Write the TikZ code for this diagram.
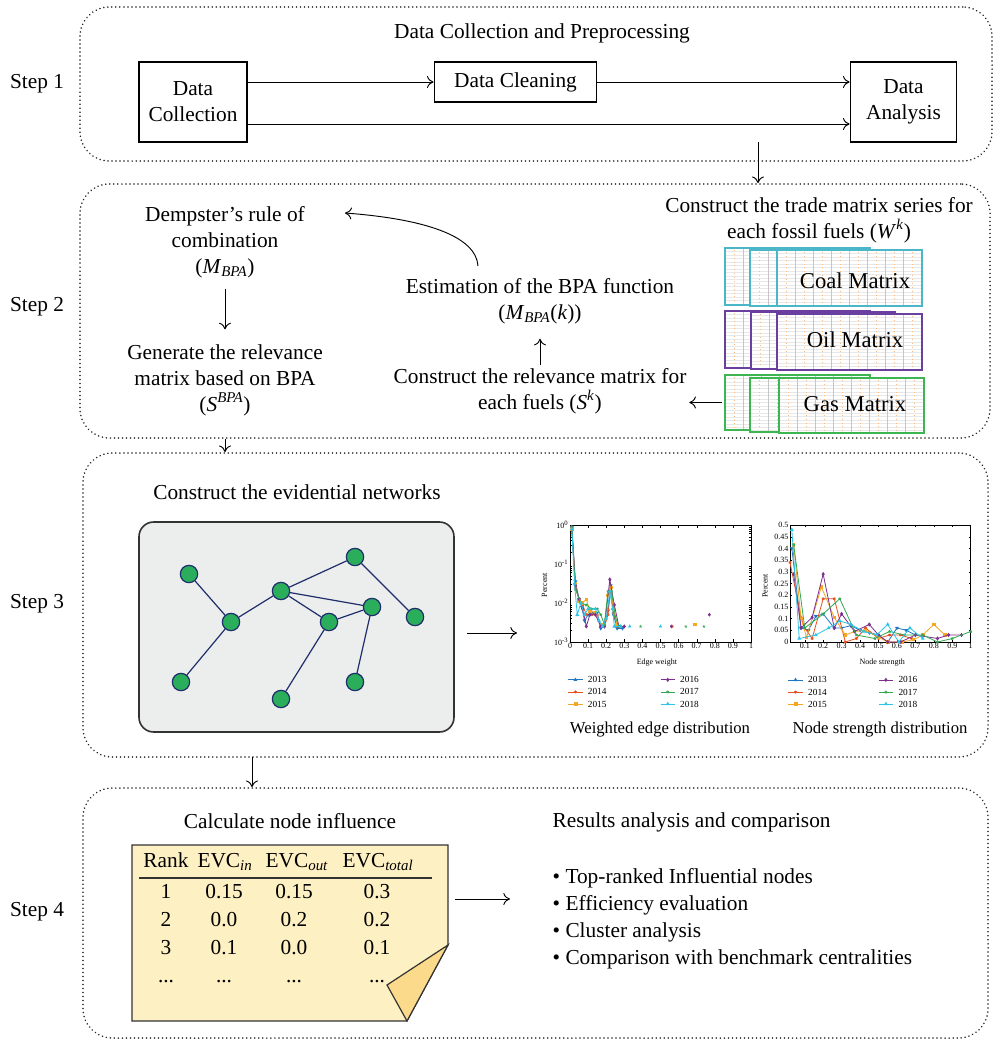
\documentclass[tikz,border=0pt]{standalone}
\usepackage{fontspec}
\setmainfont{Liberation Serif}
\usetikzlibrary{arrows.meta,positioning,fit,plotmarks}

\definecolor{netgreen}{HTML}{2BAE5C}
\definecolor{netblue}{HTML}{1F2D6B}
\definecolor{panelgray}{HTML}{ECEEEE}
\definecolor{coalcol}{HTML}{4CB6C9}
\definecolor{oilcol}{HTML}{6B3FA0}
\definecolor{gascol}{HTML}{3DB550}
\definecolor{notefill}{HTML}{FDF0C2}
\definecolor{flapfill}{HTML}{FCDA8C}
\definecolor{c13}{HTML}{1F77C4}
\definecolor{c14}{HTML}{E8501E}
\definecolor{c15}{HTML}{F5A623}
\definecolor{c16}{HTML}{7E2F8E}
\definecolor{c17}{HTML}{33A852}
\definecolor{c18}{HTML}{2EC4E8}

% one sheet of a trade matrix: name, corners, colour
\newcommand{\tradesheet}[6]{%
  \fill[white] (#2,#3) rectangle (#4,#5);
  \begin{scope}
    \clip (#2,#3) rectangle (#4,#5);
    \foreach \k in {1,...,16}
      \draw[gray!18, line width=0.3pt] (#2,#3+3.5*\k) -- (#4,#3+3.5*\k);
    \foreach \k in {1,...,8} {
      \draw[gray!45, line width=0.3pt] (#2+18*\k,#3) -- (#2+18*\k,#5);
      \draw[orange!55, line width=0.5pt, dash pattern=on 0.5pt off 2.4pt] (#2+18*\k-9,#3+2) -- (#2+18*\k-9,#5-2);
    }
  \end{scope}
  \draw[#6, line width=1.1pt] (#2,#3) rectangle (#4,#5);
  \node[inner sep=0pt, fit={(#2,#3) (#4,#5)}] (#1) {};
}

\begin{document}
\begin{tikzpicture}[
    x=0.75pt, y=-0.75pt,
    font=\fontsize{16}{19.5}\selectfont,
    stepframe/.style={
        draw=black!85, line width=1.3pt, dash pattern=on 0.01pt off 3pt,
        line cap=round, rounded corners=22pt, inner sep=0pt
    },
    flowbox/.style={draw, line width=0.8pt, align=center, inner sep=2pt},
    textblock/.style={align=center, inner sep=2pt},
    arr/.style={-{To[length=5pt,width=9pt]}, line width=0.7pt},
    vertex/.style={
        circle, draw=netblue, fill=netgreen, line width=0.9pt,
        minimum size=13pt, inner sep=0pt
    },
    link/.style={draw=netblue, line width=0.9pt},
    cell/.style={inner sep=0pt, text height=11pt, text depth=3pt},
    matlabel/.style={font=\fontsize{17}{18}\selectfont, inner sep=0pt},
    ticklab/.style={font=\fontsize{6}{6}\selectfont, inner sep=1pt},
    legendlab/.style={font=\fontsize{7}{8}\selectfont, inner sep=1pt},
    caption/.style={font=\fontsize{12.5}{14}\selectfont, inner sep=1pt}
]
\useasboundingbox (0,0) rectangle (995,1042);
\fill[white] (0,0) rectangle (995,1042);

% Step frames
\node[stepframe, fit={(80,7) (992,161)}] (frame1) {};
\node[stepframe, fit={(80,184) (990,438)}] (frame2) {};
\node[stepframe, fit={(83,453) (988,757)}] (frame3) {};
\node[stepframe, fit={(83,788) (988,1038)}] (frame4) {};

\node (lab1) at (37,84) {Step 1};
\node (lab2) at (37,307) {Step 2};
\node (lab3) at (37,604) {Step 3};
\node (lab4) at (37,912) {Step 4};

% Step 1
\node (prep) at (542,33) {Data Collection and Preprocessing};
\node[flowbox, minimum width=81pt, minimum height=60pt] (dcol) at (193,102) {Data\\Collection};
\node[flowbox, minimum width=122pt, minimum height=30pt] (dclean) at (515.5,82) {Data Cleaning};
\node[flowbox, minimum width=80pt, minimum height=60pt] (dana) at (903.5,102) {Data\\Analysis};

\draw[arr] (dclean.west -| dcol.east) -- (dclean.west);
\draw[arr] (dclean.east) -- (dclean.east -| dana.west);
\draw[arr] ([yshift=-16.5pt]dcol.east) -- ([yshift=-16.5pt]dana.west);

\coordinate (s1out) at (758,142);
\draw[arr] (s1out) -- (s1out |- frame2.north);

% Step 2
\node[textblock] (trade) at (819,220) {Construct the trade matrix series for\\each fossil fuels (\textit{W}\textsuperscript{\textit{k}})};

\tradesheet{coal1}{725}{248}{870}{305}{coalcol}
\tradesheet{coal2}{750}{250}{895}{306}{coalcol}
\tradesheet{coal3}{777}{250}{922}{306}{coalcol}
\tradesheet{oil1}{725}{311}{870}{368}{oilcol}
\tradesheet{oil2}{751}{312}{895}{369}{oilcol}
\tradesheet{oil3}{777}{314}{922}{370}{oilcol}
\tradesheet{gas1}{725}{375}{870}{430}{gascol}
\tradesheet{gas2}{750}{378}{895}{432}{gascol}
\tradesheet{gas3}{779}{378}{924}{433}{gascol}

\node[matlabel] (coallab) at (855,281) {Coal Matrix};
\node[matlabel] (oillab) at (855,340) {Oil Matrix};
\node[matlabel] (gaslab) at (855,404) {Gas Matrix};

\node[textblock] (dempster) at (225,242) {Dempster’s rule of\\combination\\(\textit{M}\textsubscript{\textit{BPA}})};
\node[textblock] (generate) at (225,380) {Generate the relevance\\matrix based on BPA\\(\textit{S}\textsuperscript{\textit{BPA}})};
\node[textblock] (estim) at (540,301) {Estimation of the BPA function\\(\textit{M}\textsubscript{\textit{BPA}}(\textit{k}))};
\node[textblock] (relmat) at (540,391) {Construct the relevance matrix for\\each fuels (\textit{S}\textsuperscript{\textit{k}})};

\draw[arr, shorten <=6pt, shorten >=9pt] (dempster) -- (generate);
\draw[arr, shorten >=9pt] (relmat) -- (estim);
\draw[arr, shorten <=2pt] (gas1.west) -- (gas1.west -| relmat.east);

\coordinate (bpastart) at (478,266);
\coordinate (dsend) at (345,213);
\draw[arr] (bpastart) .. controls (476,236) and (425,219) .. (dsend);

\draw[arr] (frame2.south -| generate) -- (frame3.north -| generate);

% Step 3
\node (evnet) at (297,492) {Construct the evidential networks};
\node[draw=black!80, fill=panelgray, line width=1.2pt, rounded corners=11pt,
      inner sep=0pt, fit={(139,522) (454,732)}] (netpanel) {};

\node[vertex] (n1) at (189,574) {};
\node[vertex] (n2) at (231,622) {};
\node[vertex] (n3) at (281,591) {};
\node[vertex] (n4) at (355,557) {};
\node[vertex] (n5) at (372,607) {};
\node[vertex] (n6) at (329,622) {};
\node[vertex] (n7) at (415,617) {};
\node[vertex] (n8) at (181,682) {};
\node[vertex] (n9) at (281,699) {};
\node[vertex] (n10) at (355,682) {};
\foreach \a/\b in {1/2, 2/8, 2/3, 3/4, 3/5, 3/6, 6/5, 6/9, 5/10, 4/7}
    \draw[link] (n\a) -- (n\b);

\coordinate (netout) at (467,633);
\coordinate (chartin) at (517,633);
\draw[arr] (netout) -- (chartin);

% Weighted edge chart (log scale)
\begin{scope}[shift={(570,642)}, x=135.75pt, y=29.25pt]
    \draw[line width=0.4pt] (0,0) rectangle (1,3);
    \foreach \t in {0,0.1,...,1.0} {
        \draw[line width=0.3pt] (\t,0) -- (\t,0.07);
        \draw[line width=0.3pt] (\t,3) -- (\t,2.93);
    }
    \foreach \d in {0,1,2}
        \foreach \m in {2,...,9} {
            \draw[line width=0.3pt] (0,{\d+log10(\m)}) -- (0.012,{\d+log10(\m)});
            \draw[line width=0.3pt] (1,{\d+log10(\m)}) -- (0.988,{\d+log10(\m)});
        }
    \foreach \t/\l in {0/0,0.1/0.1,0.2/0.2,0.3/0.3,0.4/0.4,0.5/0.5,0.6/0.6,0.7/0.7,0.8/0.8,0.9/0.9,1/1}
        \node[ticklab, below] at (\t,0) {\l};
    \foreach \d/\l in {0/-3,1/-2,2/-1,3/0}
        \node[ticklab, left] at (0,\d) {10\textsuperscript{\l}};
    \node[ticklab] at (0.48,-0.52) {Edge weight};
    \node[ticklab, rotate=90] at (-0.14,1.46) {Percent};

    \draw[c13, line width=0.6pt] plot[mark=triangle*, mark size=1.1pt, mark options={rotate=180}] coordinates {(0.01,2.95) (0.03,1.55) (0.05,1.1) (0.065,0.9) (0.08,0.55) (0.1,0.7) (0.13,0.75) (0.15,0.75) (0.17,0.35) (0.19,0.4) (0.21,0.8) (0.225,1.45) (0.24,0.7) (0.26,0.35) (0.29,0.35)};
    \draw[c14, line width=0.6pt] plot[mark=asterisk, mark size=1.1pt] coordinates {(0.01,2.9) (0.03,1.4) (0.05,1.1) (0.07,0.95) (0.09,0.7) (0.12,0.7) (0.15,0.7) (0.17,0.4) (0.19,0.4) (0.21,0.7) (0.225,1.4) (0.24,0.75) (0.26,0.4) (0.28,0.4)};
    \draw[c15, line width=0.6pt] plot[mark=square*, mark size=0.9pt] coordinates {(0.01,2.9) (0.03,1.5) (0.05,1.05) (0.07,1.0) (0.09,1.1) (0.11,0.8) (0.14,0.75) (0.17,0.45) (0.19,0.45) (0.21,1.2) (0.225,1.4) (0.24,0.85) (0.26,0.45)};
    \draw[c16, line width=0.6pt] plot[mark=diamond*, mark size=1.1pt] coordinates {(0.01,2.95) (0.03,1.45) (0.05,1.1) (0.07,0.85) (0.09,0.4) (0.11,0.7) (0.14,0.7) (0.17,0.4) (0.19,0.4) (0.22,1.6) (0.245,0.95) (0.27,0.4) (0.3,0.4)};
    \draw[c17, line width=0.6pt] plot[mark=star, mark size=1.1pt] coordinates {(0.01,2.95) (0.03,1.35) (0.06,1.0) (0.09,0.95) (0.12,0.85) (0.15,0.85) (0.17,0.7) (0.19,0.45) (0.21,1.3) (0.23,1.3) (0.25,0.65) (0.27,0.4)};
    \draw[c18, line width=0.6pt] plot[mark=triangle*, mark size=1.1pt] coordinates {(0.01,2.9) (0.025,1.5) (0.04,0.7) (0.06,1.0) (0.08,0.7) (0.1,0.85) (0.14,0.85) (0.16,0.55) (0.18,0.4) (0.2,0.6) (0.22,1.3) (0.235,0.85) (0.245,0.4) (0.28,0.4)};
    \path[c14] plot[only marks, mark=asterisk, mark size=1.1pt] coordinates {(0.565,0.4)};
    \path[c15] plot[only marks, mark=square*, mark size=0.9pt] coordinates {(0.69,0.45)};
    \path[c16] plot[only marks, mark=diamond*, mark size=1.1pt] coordinates {(0.56,0.4) (0.77,0.7)};
    \path[c17] plot[only marks, mark=star, mark size=1.1pt] coordinates {(0.39,0.4) (0.64,0.4) (0.74,0.4)};
    \path[c18] plot[only marks, mark=triangle*, mark size=1.1pt] coordinates {(0.33,0.4) (0.5,0.4)};

    \foreach \yr/\col/\mk/\lx/\ly in {2013/c13/triangle*/-0.01/-0.97, 2014/c14/asterisk/-0.01/-1.28, 2015/c15/square*/-0.01/-1.59, 2016/c16/diamond*/0.5/-0.97, 2017/c17/star/0.5/-1.28, 2018/c18/triangle*/0.5/-1.59} {
        \begin{scope}[shift={(\lx,\ly)}]
            \draw[\col, line width=0.6pt] plot[mark=\mk, mark size=1.1pt, mark indices={2}] coordinates {(0,0) (0.04,0) (0.08,0)};
        \end{scope}
        \node[legendlab, anchor=west] at (\lx+0.1,\ly) {\yr};
    }
\end{scope}
\node[caption] (wcap) at (660,730) {Weighted edge distribution};

% Node strength chart
\begin{scope}[shift={(786.3,642)}, x=138.3pt, y=175.5pt]
    \draw[line width=0.4pt] (0.02,0) rectangle (1,0.5);
    \foreach \t in {0.1,0.2,...,1.0} {
        \draw[line width=0.3pt] (\t,0) -- (\t,0.009);
        \draw[line width=0.3pt] (\t,0.5) -- (\t,0.491);
    }
    \foreach \v in {0,0.05,...,0.5} {
        \draw[line width=0.3pt] (0.02,\v) -- (0.032,\v);
        \draw[line width=0.3pt] (1,\v) -- (0.988,\v);
    }
    \foreach \t/\l in {0.1/0.1,0.2/0.2,0.3/0.3,0.4/0.4,0.5/0.5,0.6/0.6,0.7/0.7,0.8/0.8,0.9/0.9,1/1}
        \node[ticklab, below] at (\t,0) {\l};
    \foreach \v/\l in {0/0,0.05/0.05,0.1/0.1,0.15/0.15,0.2/0.2,0.25/0.25,0.3/0.3,0.35/0.35,0.4/0.4,0.45/0.45,0.5/0.5}
        \node[ticklab, left] at (0.02,\v) {\l};
    \node[ticklab] at (0.52,-0.088) {Node strength};
    \node[ticklab, rotate=90] at (-0.115,0.24) {Percent};

    \draw[c13, line width=0.6pt] plot[mark=triangle*, mark size=1.1pt, mark options={rotate=180}] coordinates {(0.03,0.40) (0.08,0.06) (0.12,0.05) (0.16,0.11) (0.2,0.12) (0.26,0.06) (0.3,0.06) (0.35,0.07) (0.4,0.05) (0.45,0.04) (0.5,0.03) (0.55,0.0) (0.6,0.06) (0.65,0.05) (0.7,0.03)};
    \draw[c14, line width=0.6pt] plot[mark=asterisk, mark size=1.1pt] coordinates {(0.02,0.34) (0.08,0.105) (0.1,0.06) (0.14,0.015) (0.2,0.185) (0.26,0.185) (0.32,0.0) (0.38,0.015) (0.43,0.06) (0.5,0.015) (0.56,0.03) (0.62,0.03) (0.68,0.015)};
    \draw[c15, line width=0.6pt] plot[mark=square*, mark size=0.9pt] coordinates {(0.04,0.415) (0.08,0.1) (0.11,0.02) (0.19,0.235) (0.26,0.105) (0.32,0.03) (0.37,0.045) (0.43,0.05) (0.5,0.02) (0.55,0.0) (0.63,0.0) (0.69,0.01) (0.74,0.03) (0.8,0.075) (0.86,0.03)};
    \draw[c16, line width=0.6pt] plot[mark=diamond*, mark size=1.1pt] coordinates {(0.04,0.29) (0.08,0.06) (0.14,0.105) (0.2,0.29) (0.26,0.06) (0.3,0.12) (0.37,0.045) (0.45,0.075) (0.5,0.03) (0.55,0.0) (0.62,0.0) (0.7,0.03) (0.82,0.015) (0.88,0.03) (0.95,0.03)};
    \draw[c17, line width=0.6pt] plot[mark=star, mark size=1.1pt] coordinates {(0.04,0.415) (0.1,0.06) (0.2,0.12) (0.29,0.185) (0.38,0.03) (0.48,0.015) (0.56,0.045) (0.64,0.03) (0.74,0.03) (0.82,0.0) (0.9,0.015) (1.0,0.045)};
    \draw[c18, line width=0.6pt] plot[mark=triangle*, mark size=1.1pt] coordinates {(0.03,0.48) (0.07,0.015) (0.16,0.03) (0.23,0.06) (0.29,0.09) (0.35,0.075) (0.42,0.045) (0.49,0.03) (0.55,0.075) (0.61,0.0) (0.67,0.06) (0.74,0.015)};

    \foreach \yr/\col/\mk/\lx/\ly in {2013/c13/triangle*/0.01/-0.162, 2014/c14/asterisk/0.01/-0.214, 2015/c15/square*/0.01/-0.265, 2016/c16/diamond*/0.5/-0.162, 2017/c17/star/0.5/-0.214, 2018/c18/triangle*/0.5/-0.265} {
        \begin{scope}[shift={(\lx,\ly)}]
            \draw[\col, line width=0.6pt] plot[mark=\mk, mark size=1.1pt, mark indices={2}] coordinates {(0,0) (0.04,0) (0.08,0)};
        \end{scope}
        \node[legendlab, anchor=west] at (\lx+0.1,\ly) {\yr};
    }
\end{scope}
\node[caption] (ncap) at (880,730) {Node strength distribution};

\coordinate (s3out) at (252,757);
\draw[arr] (s3out) -- (s3out |- frame4.north);

% Step 4
\node (calc) at (290,821) {Calculate node influence};
\draw[line width=0.9pt, draw=black!80, fill=notefill] (132,845) -- (448,845) -- (448,945) -- (407,1021) -- (132,1021) -- cycle;
\draw[line width=0.9pt, draw=black!80, fill=flapfill] (448,945) -- (387,985) -- (407,1021) -- cycle;

\node[cell] (hrank) at (166,862) {Rank};
\node[cell] (hin) at (225,862) {EVC\textsubscript{\textit{in}}};
\node[cell] (hout) at (297,862) {EVC\textsubscript{\textit{out}}};
\node[cell] (htot) at (378,862) {EVC\textsubscript{\textit{total}}};
\draw[line width=0.9pt, draw=black!80] (139,878) -- (432,878);
\foreach \a/\b/\c/\d [count=\i] in {1/0.15/0.15/0.3, 2/0.0/0.2/0.2, 3/0.1/0.0/0.1} {
    \node[cell] (r\i-a) at (166,865+28*\i) {\a};
    \node[cell] (r\i-b) at (224,865+28*\i) {\b};
    \node[cell] (r\i-c) at (294,865+28*\i) {\c};
    \node[cell] (r\i-d) at (377,865+28*\i) {\d};
}
\node[cell] (r4-a) at (166,977) {...};
\node[cell] (r4-b) at (224,977) {...};
\node[cell] (r4-c) at (294,977) {...};
\node[cell] (r4-d) at (377,977) {...};

\coordinate (noteout) at (455,899);
\coordinate (resin) at (510,899);
\draw[arr] (noteout) -- (resin);

\node[anchor=west] (results) at (548,822) {Results analysis and comparison};
\node[anchor=west, align=left, font=\fontsize{16}{20.25}\selectfont] (bullets) at (548,919)
    {\textbullet{} Top-ranked Influential nodes\\
     \textbullet{} Efficiency evaluation\\
     \textbullet{} Cluster analysis\\
     \textbullet{} Comparison with benchmark centralities};

\end{tikzpicture}
\end{document}
